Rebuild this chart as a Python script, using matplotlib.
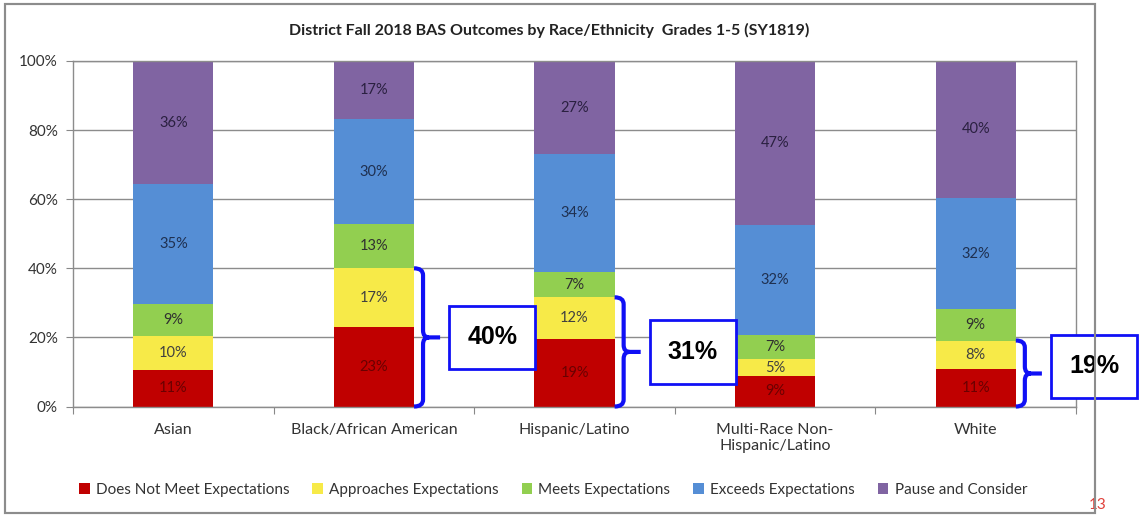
import matplotlib.pyplot as plt
import numpy as np
from matplotlib.patches import Patch, Rectangle, PathPatch
from matplotlib.path import Path

groups = ['Asian', 'Black/African American', 'Hispanic/Latino',
          'Multi-Race Non-\nHispanic/Latino', 'White']
levels = ['Does Not Meet Expectations', 'Approaches Expectations',
          'Meets Expectations', 'Exceeds Expectations', 'Pause and Consider']
does_not_meet = [10.7, 22.9, 19.4, 8.7, 10.8]
approaches = [9.6, 17.1, 12.2, 5.1, 8.3]
meets = [9.3, 12.8, 7.4, 6.8, 9.0]
exceeds = [34.7, 30.4, 34.0, 32.0, 32.3]
pause = [35.7, 16.8, 27.0, 47.4, 39.6]
# groups that get a bracket with the combined below-meets share
callouts = [1, 2, 4]

colors = ['#C00000', '#F7EA48', '#92CF50', '#558ED5', '#8064A2']
label_colors = ['#6a0000', '#404040', '#303030', '#1f3050', '#2a2040']

plt.rcParams['font.family'] = ['Lato', 'DejaVu Sans']

W, H = 1148, 515
fig = plt.figure(figsize=(W / 100, H / 100), dpi=100)
ax = fig.add_axes([73 / W, 1 - 406.5 / H, (1076 - 73) / W, (406.5 - 61) / H])

x = np.arange(len(groups))
series = [does_not_meet, approaches, meets, exceeds, pause]
bottom = np.zeros(len(groups))
bw = 0.4
for vals, col, tc, name in zip(series, colors, label_colors, levels):
    vals = np.array(vals)
    ax.bar(x, vals, bw, bottom=bottom, color=col, label=name, zorder=2)
    for xi, b, v in zip(x, bottom, vals):
        ax.text(xi, b + v / 2, f'{v:.0f}%', ha='center', va='center',
                fontsize=10.5, color=tc, zorder=3)
    bottom += vals

ax.set_xlim(-0.5, len(groups) - 0.5)
ax.set_ylim(0, 100)
ax.set_yticks(range(0, 101, 20))
ax.set_yticklabels([f'{v}%' for v in range(0, 101, 20)], fontsize=11, color='#333333')
ax.set_xticks(np.arange(-0.5, len(groups), 1))
ax.set_xticklabels([])
ax.set_xticks(x, minor=True)
ax.set_xticklabels(groups, minor=True, fontsize=11.5, color='#333333')
ax.tick_params(axis='x', which='minor', length=0, pad=12)
ax.tick_params(axis='x', which='major', length=5, color='#888888')
ax.tick_params(axis='y', length=5, color='#888888', pad=6)
ax.grid(axis='y', color='#8c8c8c', lw=1, zorder=0)
ax.set_axisbelow(True)
for s in ax.spines.values():
    s.set_color('#8c8c8c')
    s.set_linewidth(1)

# braces + boxes
blue = '#1010F5'
for i in callouts:
    hi = does_not_meet[i] + approaches[i]
    lo = 0
    mid = (hi + lo) / 2
    x0 = i + bw / 2
    x1 = x0 + 0.045
    tip = x1 + 0.085
    dx, dy = 0.03, 2.0
    verts = [(x0, hi), (x1, hi), (x1, hi - dy), (x1, mid + dy),
             (x1, mid), (x1 + dx, mid), (tip, mid),
             (x1 + dx, mid), (x1, mid), (x1, mid - dy),
             (x1, lo + dy), (x1, lo), (x0, lo)]
    codes = [Path.MOVETO, Path.CURVE3, Path.CURVE3, Path.LINETO,
             Path.CURVE3, Path.CURVE3, Path.LINETO,
             Path.MOVETO, Path.CURVE3, Path.CURVE3,
             Path.LINETO, Path.CURVE3, Path.CURVE3]
    ax.add_patch(PathPatch(Path(verts, codes), fill=False, edgecolor=blue,
                           lw=3, clip_on=False, zorder=5))
    bx, bh, bwid = tip + 0.045, 18.3, 0.43
    by = max(mid - bh / 2, 2.5)
    ax.add_patch(Rectangle((bx, by), bwid, bh, facecolor='white',
                           edgecolor=blue, lw=2, clip_on=False, zorder=6))
    total = round(does_not_meet[i]) + round(approaches[i])
    ax.text(bx + bwid / 2, by + bh / 2, f'{total}%', ha='center', va='center',
            fontsize=18, fontweight='bold', family='Liberation Sans',
            zorder=7, clip_on=False)

fig.text(549 / W, 1 - 30 / H,
         'District Fall 2018 BAS Outcomes by Race/Ethnicity  Grades 1-5 (SY1819)',
         ha='center', va='center', fontsize=11.5, fontweight='bold', color='#222222')

handles = [Patch(facecolor=c, label=n) for c, n in zip(colors, levels)]
fig.legend(handles=handles, loc='center', bbox_to_anchor=(553 / W, 1 - 490 / H),
           ncol=5, frameon=False, handlelength=0.7, handleheight=0.7,
           handletextpad=0.4, columnspacing=1.5, fontsize=11,
           labelcolor='#333333')

fig.text(1107 / W, 1 - 505 / H, '13', ha='right', va='center', fontsize=11,
         color='#E0403A')
fig.add_artist(Rectangle((5 / W, 1 - 513 / H), (1095 - 5) / W, (513 - 4) / H,
                         transform=fig.transFigure, facecolor='white',
                         edgecolor='#8c8c8c', lw=1.5, zorder=-1))
fig.add_artist(Rectangle((5 / W, 1 - 513 / H), (1095 - 5) / W, (513 - 4) / H,
                         transform=fig.transFigure, fill=False,
                         edgecolor='#8c8c8c', lw=1.5, zorder=10))

fig.savefig('out.png', dpi=100)
